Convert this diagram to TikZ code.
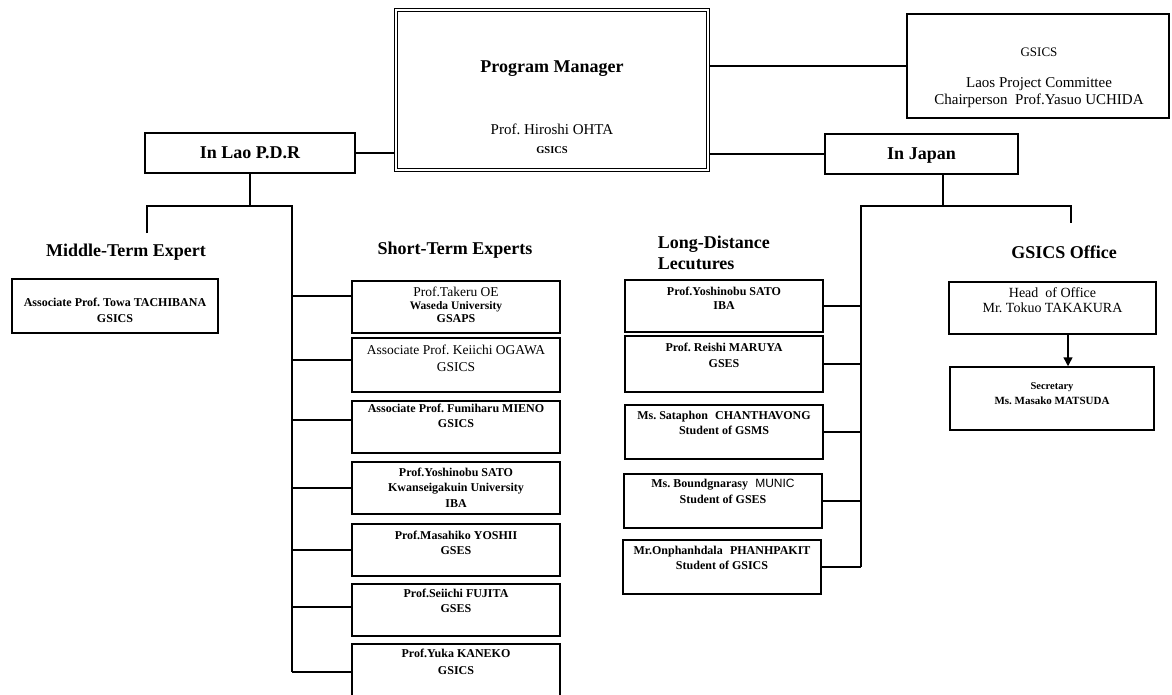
\documentclass[tikz,border=0pt]{standalone}
\usepackage{fontspec}
\setmainfont{Liberation Serif}
\newfontfamily\arialf{Liberation Sans}
\usetikzlibrary{calc,arrows.meta}
\begin{document}
\begin{tikzpicture}[x=1pt,y=-1pt,line width=1.5pt]
\tikzset{
  bx/.style={draw,inner sep=0pt},
  hd/.style={inner sep=0pt,font=\bfseries\fontsize{18}{20}\selectfont,text height=12pt,text depth=0pt},
  rg/.style={inner sep=0pt,font=\fontsize{13.5}{15}\selectfont,text height=9pt,text depth=0pt},
  rgl/.style={inner sep=0pt,font=\fontsize{15}{17}\selectfont,text height=10pt,text depth=0pt},
  sb/.style={inner sep=0pt,font=\bfseries\fontsize{12}{14}\selectfont,text height=8pt,text depth=0pt},
  tb/.style={inner sep=0pt,font=\bfseries\fontsize{10.5}{12}\selectfont,text height=7pt,text depth=0pt},
  stbox/.style={bx,minimum width=208pt},
  ldbox/.style={bx,minimum width=198pt},
}
\clip (0,0) rectangle (1172,695);
\fill[white] (0,0) rectangle (1172,695);

% top level
\node[bx,double,line width=1.2pt,double distance=2.2pt,minimum width=312pt,minimum height=160pt] (pm) at (552,90) {};
\node[hd] (pmt) at (552,67) {Program Manager};
\node[rgl] (pmn) at (552,130) {Prof.~Hiroshi OHTA};
\node[tb] (pmg) at (552,150) {GSICS};

\node[bx,minimum width=262pt,minimum height=104pt] (gsc) at (1038,66) {};
\node[inner sep=0pt,font=\fontsize{13}{15}\selectfont,text height=8.6pt,text depth=0pt] (gsct) at (1039,52) {GSICS};
\node[rgl] (gscl) at (1039,83) {Laos Project Committee};
\node[rgl] (gscc) at (1039,100) {Chairperson\hspace{0.5em}Prof.Yasuo UCHIDA};

\node[bx,hd,minimum width=210pt,minimum height=40pt,text height=12pt] (lao) at (250,153) {In Lao P.D.R};
\node[bx,hd,minimum width=193pt,minimum height=40pt,text height=12pt] (jp) at (921.5,154) {In Japan};

\draw (gsc.west) -- (gsc.west -| pm.east);
\draw (lao.east) -- (lao.east -| pm.west);
\draw (jp.west) -- (jp.west -| pm.east);

% middle-term
\node[hd] (mth) at (126,250) {Middle-Term Expert};
\node[bx,minimum width=206pt,minimum height=54pt] (mt) at (115,306) {};
\node[sb] (mt1) at (115,302) {Associate Prof.~Towa TACHIBANA};
\node[sb] (mt2) at (115,318) {GSICS};

% short-term
\node[hd] (sth) at (455,248) {Short-Term Experts};
\node[stbox,minimum height=52pt] (b1) at (456,307) {};
\node[rg] at (456,292) {Prof.Takeru OE};
\node[sb,font=\bfseries\fontsize{11.5}{13}\selectfont] at (456,305) {Waseda University};
\node[sb] at (456,318) {GSAPS};

\node[stbox,minimum height=54pt] (b2) at (456,365) {};
\node[rg] at (456,350) {Associate Prof.~Keiichi OGAWA};
\node[rg] at (456,367) {GSICS};

\node[stbox,minimum height=52pt] (b3) at (456,427) {};
\node[sb] at (456,408) {Associate Prof.~Fumiharu MIENO};
\node[sb] at (456,423) {GSICS};

\node[stbox,minimum height=52pt] (b4) at (456,488) {};
\node[sb] at (456,472) {Prof.Yoshinobu SATO};
\node[sb] at (456,487) {Kwanseigakuin University};
\node[sb] at (456,503) {IBA};

\node[stbox,minimum height=52pt] (b5) at (456,550) {};
\node[sb] at (456,535) {Prof.Masahiko YOSHII};
\node[sb] at (456,550) {GSES};

\node[stbox,minimum height=52pt] (b6) at (456,610) {};
\node[sb] at (456,593) {Prof.Seiichi FUJITA};
\node[sb] at (456,608) {GSES};

\node[stbox,minimum height=58pt] (b7) at (456,673) {};
\node[sb] at (456,653) {Prof.Yuka KANEKO};
\node[sb] at (456,670) {GSICS};

% left tree
\coordinate (lbar) at (147,206);
\coordinate (lsp) at (292,206);
\coordinate (mtop) at (147,233);
\coordinate (b1c) at ($(b1.west)+(0,-11)$);
\coordinate (b2c) at ($(b2.west)+(0,-5)$);
\coordinate (b3c) at ($(b3.west)+(0,-7)$);
\coordinate (b4c) at (b4.west);
\coordinate (b5c) at (b5.west);
\coordinate (b6c) at ($(b6.west)+(0,-3)$);
\coordinate (b7c) at ($(b7.west)+(0,-1)$);
\draw (lao.south) -- (lao.south |- lbar);
\draw (mtop) -- (lbar) -- (lsp) -- (lsp |- b7c);
\foreach \c in {b1c,b2c,b3c,b4c,b5c,b6c,b7c}{\draw (lsp |- \c) -- (\c);}

% long-distance
\node[hd,anchor=west] (ldh1) at (657,242) {Long-Distance};
\node[hd,anchor=west] (ldh2) at (657,263) {Lecutures};

\node[ldbox,minimum height=52pt] (L1) at (724,306) {};
\node[sb] at (724,291) {Prof.Yoshinobu SATO};
\node[sb] at (724,305) {IBA};

\node[ldbox,minimum height=56pt] (L2) at (724,364) {};
\node[sb] at (724,347) {Prof.~Reishi MARUYA};
\node[sb] at (724,363) {GSES};

\node[ldbox,minimum height=54pt] (L3) at (724,432) {};
\node[sb] at (724,415) {Ms.~Sataphon\hspace{0.6em}CHANTHAVONG};
\node[sb] at (724,430) {Student of GSMS};

\node[ldbox,minimum height=54pt] (L4) at (723,501) {};
\node[sb] at (723,483) {Ms.~Boundgnarasy\hspace{0.6em}{\arialf\mdseries MUNIC}};
\node[sb] at (723,499) {Student of GSES};

\node[ldbox,minimum height=54pt] (L5) at (722,567) {};
\node[sb] at (722,550) {Mr.Onphanhdala\hspace{0.6em}PHANHPAKIT};
\node[sb] at (722,565) {Student of GSICS};

% right tree
\coordinate (jc) at ($(jp.south west)!.61!(jp.south east)$);
\coordinate (rbar) at (861,206);
\coordinate (rbar2) at (1071,206);
\coordinate (otop) at (1071,223);
\draw (jc) -- (jc |- rbar);
\draw (L5.east -| rbar) -- (rbar) -- (rbar2) -- (otop);
\foreach \c in {L1,L2,L3,L4,L5}{\draw (\c.east) -- (\c.east -| rbar);}

% GSICS office
\node[hd] (goh) at (1064,252) {GSICS Office};
\node[bx,minimum width=207pt,minimum height=52pt] (head) at (1052.5,308) {};
\node[rg,font=\fontsize{14}{16}\selectfont] at (1052.5,293) {Head\hspace{0.5em}of Office};
\node[rg,font=\fontsize{14}{16}\selectfont] at (1052.5,308) {Mr.~Tokuo TAKAKURA};
\node[bx,minimum width=204pt,minimum height=63pt] (sec) at (1052,398.5) {};
\node[tb,font=\bfseries\fontsize{10.5}{12}\selectfont] at (1052,386) {Secretary};
\node[tb,font=\bfseries\fontsize{11}{12}\selectfont] at (1052,401) {Ms.~Masako MATSUDA};
\coordinate (arrs) at ($(head.south)+(15.5,0)$);
\draw[-{Triangle[width=9pt,length=9pt]}] (arrs) -- (arrs |- sec.north);
\end{tikzpicture}
\end{document}
